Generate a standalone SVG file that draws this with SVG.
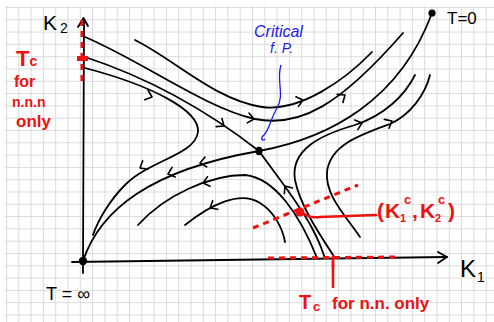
<svg xmlns="http://www.w3.org/2000/svg" width="494" height="322" viewBox="0 0 494 322">
<defs>
<pattern id="grid" width="12.3" height="12.3" patternUnits="userSpaceOnUse" x="6" y="7">
<path d="M0,0.5 H12.3 M0.5,0 V12.3" fill="none" stroke="#dadada" stroke-width="1"/>
</pattern>
<path id="chev" d="M-6,-5 L0,0 L-6,5" fill="none"/>
</defs>
<style>
.flow{fill:none;stroke:#000;stroke-width:1.8;stroke-linecap:round;stroke-linejoin:round}
.ax{fill:none;stroke:#000;stroke-width:1.8;stroke-linecap:round;stroke-linejoin:round}
.arr{fill:none;stroke:#000;stroke-width:1.6;stroke-linecap:round;stroke-linejoin:round}
.red{fill:none;stroke:#ee1111;stroke-width:2.6;stroke-linecap:round}
.dash{fill:none;stroke:#ee1111;stroke-width:3;stroke-dasharray:6 5}
.blk{font-family:"Liberation Sans",Arial,sans-serif;fill:#000}
.rt{font-family:"Liberation Sans",Arial,sans-serif;fill:#ee1111;font-weight:bold}
.bt{font-family:"Liberation Sans",Arial,sans-serif;fill:#1a1aee;font-style:italic}
</style>
<rect x="0" y="0" width="494" height="322" fill="#fff"/>
<rect x="5" y="6" width="489" height="316" fill="url(#grid)"/>

<g id="axes">
<path class="ax" d="M83,273 L83,262 L84,20"/>
<path class="ax" d="M78,27 L83.5,18 L88,26"/>
<path class="ax" d="M72,262 L447,257"/>
<path class="ax" d="M438,252 L447,257 L438,263"/>
</g>

<g id="connectors">
<path class="flow" d="M135,40 C175,60 215,100 262,107 C300,112 345,80 372,52"/>
<path class="flow" d="M85,37 C140,60 205,108 255,119 C300,128 340,105 403,33"/>
<path class="flow" d="M85,57 C140,75 200,105 259,151"/>
<path class="flow" d="M259,151 C280,180 300,205 312,228 S322,252 325,258"/>
<path class="flow" d="M83,261 C100,210 150,170 259,151 C330,138 400,100 432,13"/>
<path class="flow" d="M85,68 C150,85 200,110 198,132 C195,155 150,160 125,185 C110,200 98,220 93,235"/>
<path class="flow" d="M138,225 C165,195 210,175 245,175 C275,178 300,215 317,258"/>
<path class="flow" d="M185,225 C210,205 240,190 260,203 C275,212 283,230 285,242"/>
<path class="flow" d="M335,258 C318,232 300,205 295,180 C290,150 320,135 355,125 C385,115 405,95 415,75"/>
<path class="flow" d="M360,237 C345,215 325,195 327,172 C330,145 360,135 390,124 C410,115 425,95 430,75"/>
<use href="#chev" class="arr" transform="translate(303,100) rotate(-15)"/>
<use href="#chev" class="arr" transform="translate(254,119) rotate(10)"/>
<use href="#chev" class="arr" transform="translate(345,95) rotate(-35)"/>
<use href="#chev" class="arr" transform="translate(224,126) rotate(35)"/>
<use href="#chev" class="arr" transform="translate(152,97) rotate(20)"/>
<use href="#chev" class="arr" transform="translate(140,168) rotate(150)"/>
<use href="#chev" class="arr" transform="translate(168,174) rotate(162)"/>
<use href="#chev" class="arr" transform="translate(200,163) rotate(170)"/>
<use href="#chev" class="arr" transform="translate(203,183) rotate(165)"/>
<use href="#chev" class="arr" transform="translate(210,208) rotate(150)"/>
<use href="#chev" class="arr" transform="translate(285,186) rotate(-125)"/>
<use href="#chev" class="arr" transform="translate(362,123) rotate(-18)"/>
<use href="#chev" class="arr" transform="translate(392,121) rotate(-28)"/>
</g>

<g id="red-marks">
<path class="dash" d="M82,20 V86" stroke-width="2.4" stroke-dasharray="5 4"/>
<rect x="77" y="56" width="11" height="5" fill="#ee1111"/>
<path class="dash" d="M268,258 L395,257"/>
<path class="dash" d="M253,228 L358,185"/>
<path class="red" d="M333,256 V268" stroke-width="4"/>
<path class="red" d="M333,262 V287"/>
<circle cx="300" cy="212" r="4.5" fill="#ee1111"/>
<path class="red" d="M305,214 Q308,218 320,217 L376,215"/>
</g>

<g id="nodes">
<g id="t-inf"><circle cx="83" cy="261" r="4.2" fill="#000"/></g>
<g id="critical-fp"><ellipse cx="259" cy="151" rx="3.5" ry="4.2" fill="#000"/></g>
<g id="t-zero"><circle cx="432" cy="13" r="3.6" fill="#000"/></g>
</g>

<g id="labels">
<text class="blk" x="43" y="30" font-size="21">K<tspan font-size="14" dx="3" dy="3">2</tspan></text>
<text class="blk" x="447" y="24" font-size="17">T=0</text>
<text class="blk" x="46" y="300" font-size="18">T = ∞</text>
<text class="blk" x="460" y="277" font-size="24">K<tspan font-size="14" dx="1" dy="5">1</tspan></text>
<text class="bt" x="254" y="37" font-size="16">Critical</text>
<text class="bt" x="270" y="53" font-size="14">f. P.</text>
<path d="M281,65 C276,80 285,95 277,108 C270,120 270,128 264,135 C260,138 262,142 265,139" fill="none" stroke="#1a1aee" stroke-width="1.3"/>
<text class="rt" x="16" y="66" font-size="22">T<tspan font-size="14">c</tspan></text>
<text class="rt" x="14" y="87" font-size="16">for</text>
<text class="rt" x="12" y="107" font-size="14">n.n.n</text>
<text class="rt" x="16" y="127" font-size="17">only</text>
<text class="rt" font-size="17"><tspan x="299" y="309" font-size="20">T</tspan><tspan x="313" y="311" font-size="13">c</tspan><tspan x="332" y="309">for n.n. only</tspan></text>
<text class="rt" font-size="21"><tspan x="377" y="218">(</tspan><tspan x="385" y="218">K</tspan><tspan x="400" y="222" font-size="11">1</tspan><tspan x="404" y="204" font-size="13">c</tspan><tspan x="412" y="218">,</tspan><tspan x="420" y="218">K</tspan><tspan x="435" y="222" font-size="11">2</tspan><tspan x="438" y="204" font-size="13">c</tspan><tspan x="448" y="218">)</tspan></text>
</g>
</svg>
